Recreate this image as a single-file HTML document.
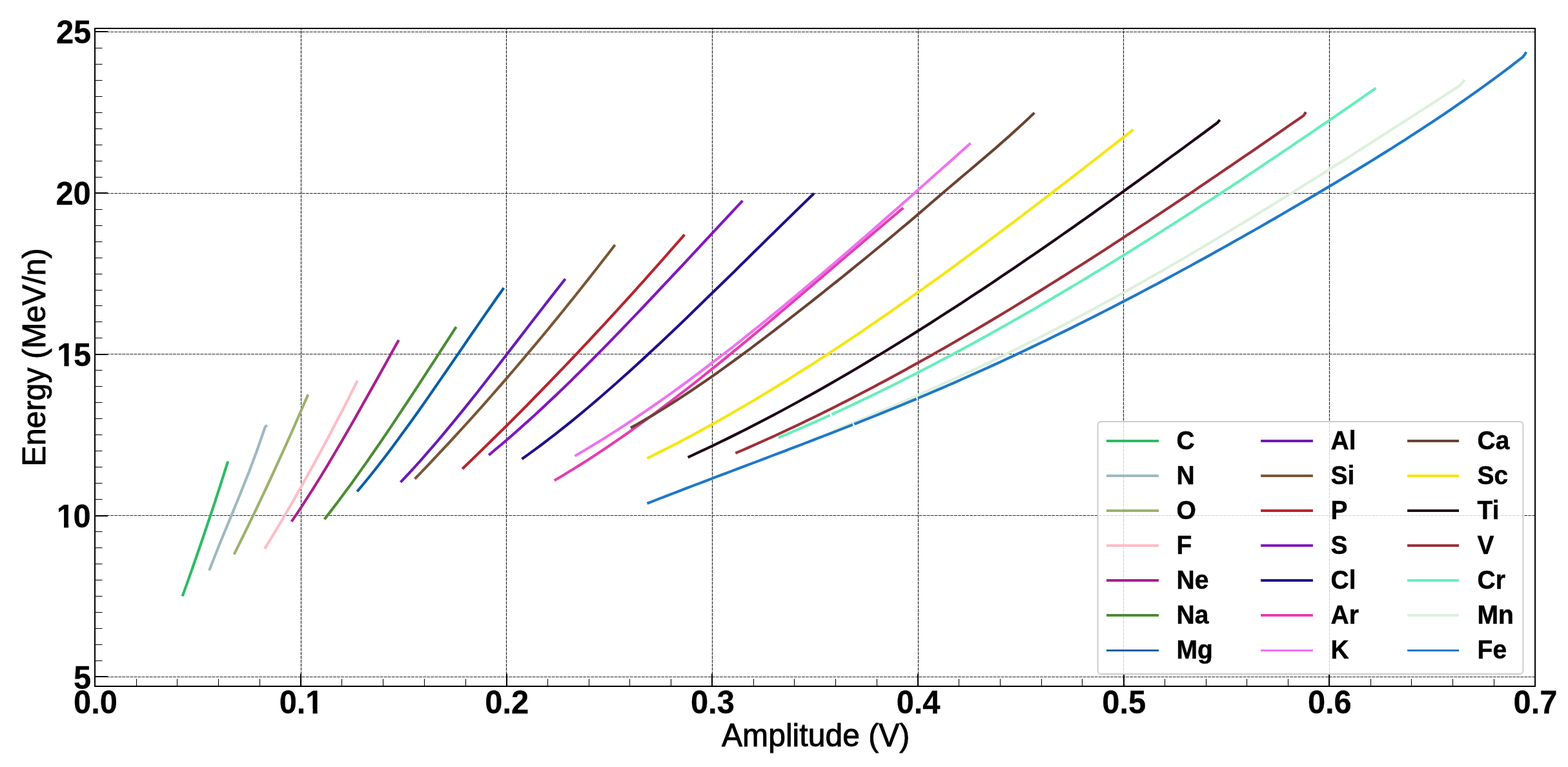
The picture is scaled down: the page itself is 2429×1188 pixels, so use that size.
<!DOCTYPE html>
<html lang="en"><head><meta charset="utf-8"><title>Energy vs Amplitude</title>
<style>html,body{margin:0;padding:0;background:#fff;overflow:hidden}svg{display:block}text{font-family:"Liberation Sans",sans-serif;fill:#000}text{stroke:#000;stroke-linejoin:round}.tk{font-weight:bold;font-size:48.8px;stroke-width:0.3px}.lb{font-size:48.1px;stroke-width:0.9px}.lg{font-weight:bold;font-size:39px;stroke-width:0.5px}</style></head><body>
<svg width="2429" height="1188" viewBox="0 0 2429 1188">
<rect width="2429" height="1188" fill="#fff"/>
<g id="grid">
<path d="M466.5 1063.0V44.0" stroke="#000" stroke-opacity="0.85" stroke-width="1.2" stroke-dasharray="4.8 1.25" fill="none"/>
<path d="M784.5 1063.0V44.0" stroke="#000" stroke-opacity="0.85" stroke-width="1.2" stroke-dasharray="4.8 1.25" fill="none"/>
<path d="M1103.5 1063.0V44.0" stroke="#000" stroke-opacity="0.85" stroke-width="1.2" stroke-dasharray="4.8 1.25" fill="none"/>
<path d="M1422.5 1063.0V44.0" stroke="#000" stroke-opacity="0.85" stroke-width="1.2" stroke-dasharray="4.8 1.25" fill="none"/>
<path d="M1740.5 1063.0V44.0" stroke="#000" stroke-opacity="0.85" stroke-width="1.2" stroke-dasharray="4.8 1.25" fill="none"/>
<path d="M2059.5 1063.0V44.0" stroke="#000" stroke-opacity="0.85" stroke-width="1.2" stroke-dasharray="4.8 1.25" fill="none"/>
<path d="M147.0 1048.5H2378.0" stroke="#000" stroke-opacity="0.85" stroke-width="1.2" stroke-dasharray="4.8 1.25" fill="none"/>
<path d="M147.0 798.5H2378.0" stroke="#000" stroke-opacity="0.85" stroke-width="1.2" stroke-dasharray="4.8 1.25" fill="none"/>
<path d="M147.0 548.5H2378.0" stroke="#000" stroke-opacity="0.85" stroke-width="1.2" stroke-dasharray="4.8 1.25" fill="none"/>
<path d="M147.0 299.5H2378.0" stroke="#000" stroke-opacity="0.85" stroke-width="1.2" stroke-dasharray="4.8 1.25" fill="none"/>
<path d="M147.0 49.5H2378.0" stroke="#000" stroke-opacity="0.85" stroke-width="1.2" stroke-dasharray="4.8 1.25" fill="none"/>
</g>
<g id="curves" fill="none" stroke-width="4.2" stroke-linejoin="round">
<path d="M282.6 923.4 L292.7 895.4 L302.7 866.8 L312.8 837.5 L322.9 807.7 L333.0 777.3 L343.0 746.3 L353.1 714.6" stroke="#2EBB62"/>
<path d="M324.1 883.5 L336.5 851.9 L348.9 821.5 L361.3 791.6 L373.6 761.4 L386.0 730.2 L398.4 697.0 L410.8 661.3 L413.8 658.5" stroke="#9DB9C2"/>
<path d="M362.6 858.6 L374.1 835.5 L385.5 812.1 L397.0 788.3 L408.5 764.1 L420.0 739.5 L431.4 714.6 L442.9 689.3 L454.4 663.6 L465.8 637.5 L477.3 611.1" stroke="#9DB16E"/>
<path d="M409.9 850.2 L421.0 832.0 L432.0 813.6 L443.1 794.8 L454.1 775.7 L465.2 756.3 L476.3 736.5 L487.3 716.5 L498.4 696.2 L509.5 675.5 L520.5 654.5 L531.6 633.2 L542.6 611.6 L553.7 589.7" stroke="#FFBDC7"/>
<path d="M451.6 807.9 L462.7 791.6 L473.7 774.7 L484.8 757.3 L495.9 739.5 L507.0 721.3 L518.0 702.7 L529.1 683.9 L540.2 664.7 L551.3 645.4 L562.3 625.8 L573.4 606.1 L584.5 586.4 L595.6 566.5 L606.6 546.6 L617.7 526.8" stroke="#A8208F"/>
<path d="M502.5 804.4 L513.2 790.6 L524.0 776.5 L534.7 762.1 L545.5 747.4 L556.2 732.4 L567.0 717.2 L577.7 701.8 L588.5 686.2 L599.2 670.3 L610.0 654.4 L620.7 638.2 L631.5 622.0 L642.2 605.6 L653.0 589.1 L663.7 572.6 L674.5 556.1 L685.2 539.5 L696.0 522.9 L706.7 506.3" stroke="#4C8C34"/>
<path d="M553.2 761.4 L564.0 748.5 L574.8 735.2 L585.7 721.5 L596.5 707.5 L607.3 693.2 L618.1 678.6 L628.9 663.8 L639.8 648.7 L650.6 633.5 L661.4 618.1 L672.2 602.5 L683.0 586.9 L693.8 571.2 L704.7 555.4 L715.5 539.6 L726.3 523.8 L737.1 508.1 L747.9 492.4 L758.8 476.8 L769.6 461.3 L780.4 446.0" stroke="#0A5FA8"/>
<path d="M620.5 746.9 L631.1 735.7 L641.8 724.1 L652.4 712.3 L663.0 700.2 L673.7 687.9 L684.3 675.4 L694.9 662.6 L705.6 649.7 L716.2 636.6 L726.8 623.4 L737.5 610.0 L748.1 596.5 L758.7 582.9 L769.4 569.2 L780.0 555.5 L790.6 541.7 L801.3 527.9 L811.9 514.1 L822.5 500.3 L833.2 486.5 L843.8 472.8 L854.4 459.1 L865.1 445.5 L875.7 432.0" stroke="#6A1BB5"/>
<path d="M642.6 741.8 L652.9 731.1 L663.3 720.2 L673.6 709.3 L683.9 698.3 L694.3 687.2 L704.6 676.0 L715.0 664.7 L725.3 653.3 L735.6 641.9 L746.0 630.3 L756.3 618.6 L766.6 606.9 L777.0 595.0 L787.3 583.1 L797.7 571.0 L808.0 558.9 L818.3 546.7 L828.7 534.4 L839.0 522.0 L849.3 509.5 L859.7 496.9 L870.0 484.2 L880.3 471.4 L890.7 458.5 L901.0 445.5 L911.4 432.4 L921.7 419.3 L932.0 406.0 L942.4 392.7 L952.7 379.2" stroke="#7A5634"/>
<path d="M716.2 726.2 L726.6 716.2 L737.1 706.1 L747.5 696.0 L757.9 685.8 L768.4 675.5 L778.8 665.2 L789.2 654.9 L799.6 644.4 L810.1 633.9 L820.5 623.4 L830.9 612.7 L841.4 602.1 L851.8 591.3 L862.2 580.5 L872.7 569.6 L883.1 558.7 L893.5 547.7 L903.9 536.6 L914.4 525.5 L924.8 514.3 L935.2 503.1 L945.7 491.8 L956.1 480.4 L966.5 469.0 L977.0 457.5 L987.4 445.9 L997.8 434.3 L1008.2 422.6 L1018.7 410.9 L1029.1 399.1 L1039.5 387.2 L1050.0 375.3 L1060.4 363.3" stroke="#B8242C"/>
<path d="M757.2 704.8 L767.5 696.2 L777.9 687.5 L788.2 678.6 L798.6 669.6 L808.9 660.4 L819.3 651.1 L829.6 641.7 L840.0 632.1 L850.3 622.4 L860.7 612.6 L871.0 602.7 L881.4 592.7 L891.7 582.5 L902.1 572.3 L912.4 562.0 L922.8 551.6 L933.1 541.1 L943.5 530.5 L953.8 519.9 L964.1 509.2 L974.5 498.4 L984.8 487.6 L995.2 476.7 L1005.5 465.8 L1015.9 454.8 L1026.2 443.8 L1036.6 432.8 L1046.9 421.7 L1057.3 410.7 L1067.6 399.6 L1078.0 388.5 L1088.3 377.3 L1098.7 366.2 L1109.0 355.1 L1119.4 344.0 L1129.7 333.0 L1140.1 321.9 L1150.4 310.9" stroke="#8018C0"/>
<path d="M808.4 711.0 L818.7 703.6 L829.0 696.1 L839.3 688.5 L849.5 680.7 L859.8 672.8 L870.1 664.7 L880.4 656.5 L890.7 648.1 L901.0 639.6 L911.3 631.0 L921.5 622.3 L931.8 613.5 L942.1 604.5 L952.4 595.5 L962.7 586.3 L973.0 577.1 L983.3 567.8 L993.6 558.4 L1003.8 548.9 L1014.1 539.3 L1024.4 529.7 L1034.7 520.0 L1045.0 510.2 L1055.3 500.4 L1065.6 490.5 L1075.8 480.6 L1086.1 470.6 L1096.4 460.6 L1106.7 450.6 L1117.0 440.6 L1127.3 430.5 L1137.6 420.4 L1147.8 410.3 L1158.1 400.2 L1168.4 390.0 L1178.7 379.9 L1189.0 369.8 L1199.3 359.7 L1209.6 349.6 L1219.9 339.5 L1230.1 329.5 L1240.4 319.4 L1250.7 309.5 L1261.0 299.5" stroke="#1F108C"/>
<path d="M858.8 744.2 L869.0 738.2 L879.2 732.0 L889.4 725.8 L899.6 719.4 L909.8 712.9 L920.0 706.3 L930.2 699.6 L940.4 692.8 L950.6 685.8 L960.8 678.8 L971.0 671.7 L981.2 664.4 L991.4 657.1 L1001.6 649.6 L1011.8 642.1 L1022.0 634.5 L1032.2 626.8 L1042.4 619.1 L1052.6 611.2 L1062.8 603.3 L1073.0 595.3 L1083.2 587.3 L1093.4 579.2 L1103.6 571.0 L1113.8 562.8 L1124.0 554.5 L1134.2 546.2 L1144.4 537.8 L1154.6 529.4 L1164.8 520.9 L1175.0 512.4 L1185.2 503.8 L1195.4 495.3 L1205.6 486.7 L1215.8 478.0 L1226.0 469.4 L1236.2 460.7 L1246.4 452.0 L1256.6 443.3 L1266.8 434.6 L1277.0 425.9 L1287.2 417.2 L1297.4 408.5 L1307.6 399.7 L1317.8 391.0 L1328.0 382.3 L1338.2 373.6 L1348.4 364.9 L1358.6 356.3 L1368.8 347.6 L1379.0 339.0 L1389.2 330.4 L1399.4 321.9" stroke="#E63CB0"/>
<path d="M890.6 706.3 L900.8 700.3 L911.0 694.2 L921.2 688.0 L931.5 681.7 L941.7 675.3 L951.9 668.8 L962.1 662.2 L972.3 655.5 L982.5 648.7 L992.8 641.8 L1003.0 634.8 L1013.2 627.8 L1023.4 620.6 L1033.6 613.4 L1043.8 606.1 L1054.0 598.7 L1064.3 591.2 L1074.5 583.6 L1084.7 576.0 L1094.9 568.3 L1105.1 560.5 L1115.3 552.7 L1125.5 544.8 L1135.8 536.8 L1146.0 528.8 L1156.2 520.7 L1166.4 512.5 L1176.6 504.3 L1186.8 496.1 L1197.0 487.7 L1207.3 479.3 L1217.5 470.9 L1227.7 462.4 L1237.9 453.9 L1248.1 445.3 L1258.3 436.7 L1268.6 428.1 L1278.8 419.4 L1289.0 410.6 L1299.2 401.9 L1309.4 393.1 L1319.6 384.2 L1329.8 375.4 L1340.1 366.5 L1350.3 357.6 L1360.5 348.6 L1370.7 339.6 L1380.9 330.7 L1391.1 321.7 L1401.3 312.6 L1411.6 303.6 L1421.8 294.5 L1432.0 285.5 L1442.2 276.4 L1452.4 267.3 L1462.6 258.2 L1472.9 249.1 L1483.1 240.0 L1493.3 230.9 L1503.5 221.8" stroke="#EE72F0"/>
<path d="M976.9 662.7 L987.2 657.0 L997.4 651.1 L1007.7 645.1 L1017.9 639.0 L1028.2 632.7 L1038.4 626.3 L1048.7 619.7 L1058.9 613.0 L1069.2 606.2 L1079.4 599.3 L1089.7 592.3 L1099.9 585.2 L1110.2 578.0 L1120.5 570.6 L1130.7 563.2 L1141.0 555.8 L1151.2 548.2 L1161.5 540.6 L1171.7 532.9 L1182.0 525.1 L1192.2 517.3 L1202.5 509.5 L1212.7 501.6 L1223.0 493.6 L1233.3 485.7 L1243.5 477.7 L1253.8 469.6 L1264.0 461.5 L1274.3 453.4 L1284.5 445.2 L1294.8 437.0 L1305.0 428.8 L1315.3 420.5 L1325.5 412.2 L1335.8 403.9 L1346.0 395.5 L1356.3 387.0 L1366.6 378.6 L1376.8 370.1 L1387.1 361.5 L1397.3 352.9 L1407.6 344.3 L1417.8 335.6 L1428.1 326.8 L1438.3 318.0 L1448.6 309.1 L1458.8 300.3 L1469.1 291.5 L1479.4 282.8 L1489.6 274.1 L1499.9 265.5 L1510.1 256.8 L1520.4 248.1 L1530.6 239.4 L1540.9 230.6 L1551.1 221.6 L1561.4 212.6 L1571.6 203.4 L1581.9 194.0 L1592.1 184.5 L1602.4 174.7" stroke="#6B4232"/>
<path d="M1002.5 709.8 L1012.7 704.8 L1022.9 699.7 L1033.0 694.6 L1043.2 689.4 L1053.4 684.1 L1063.6 678.7 L1073.8 673.3 L1083.9 667.8 L1094.1 662.2 L1104.3 656.6 L1114.5 650.9 L1124.7 645.1 L1134.8 639.3 L1145.0 633.4 L1155.2 627.5 L1165.4 621.5 L1175.6 615.4 L1185.7 609.3 L1195.9 603.1 L1206.1 596.9 L1216.3 590.6 L1226.5 584.2 L1236.6 577.8 L1246.8 571.4 L1257.0 564.9 L1267.2 558.3 L1277.4 551.7 L1287.5 545.0 L1297.7 538.3 L1307.9 531.6 L1318.1 524.8 L1328.3 517.9 L1338.4 511.0 L1348.6 504.1 L1358.8 497.1 L1369.0 490.1 L1379.2 483.0 L1389.3 475.9 L1399.5 468.8 L1409.7 461.6 L1419.9 454.3 L1430.0 447.1 L1440.2 439.8 L1450.4 432.5 L1460.6 425.1 L1470.8 417.7 L1480.9 410.3 L1491.1 402.8 L1501.3 395.3 L1511.5 387.8 L1521.7 380.2 L1531.8 372.6 L1542.0 365.0 L1552.2 357.4 L1562.4 349.7 L1572.6 342.1 L1582.7 334.4 L1592.9 326.6 L1603.1 318.9 L1613.3 311.1 L1623.5 303.3 L1633.6 295.5 L1643.8 287.7 L1654.0 279.8 L1664.2 272.0 L1674.4 264.1 L1684.5 256.2 L1694.7 248.3 L1704.9 240.4 L1715.1 232.4 L1725.3 224.5 L1735.4 216.5 L1745.6 208.6 L1755.8 200.6" stroke="#F5E610"/>
<path d="M1065.7 708.3 L1075.8 703.6 L1085.9 698.9 L1096.1 694.2 L1106.2 689.3 L1116.3 684.4 L1126.4 679.5 L1136.6 674.5 L1146.7 669.4 L1156.8 664.3 L1166.9 659.2 L1177.1 653.9 L1187.2 648.7 L1197.3 643.3 L1207.4 638.0 L1217.6 632.5 L1227.7 627.0 L1237.8 621.5 L1247.9 615.9 L1258.0 610.3 L1268.2 604.6 L1278.3 598.9 L1288.4 593.1 L1298.5 587.3 L1308.7 581.4 L1318.8 575.5 L1328.9 569.5 L1339.0 563.5 L1349.2 557.4 L1359.3 551.3 L1369.4 545.2 L1379.5 539.0 L1389.7 532.8 L1399.8 526.5 L1409.9 520.2 L1420.0 513.9 L1430.1 507.5 L1440.3 501.1 L1450.4 494.6 L1460.5 488.1 L1470.6 481.6 L1480.8 475.1 L1490.9 468.4 L1501.0 461.8 L1511.1 455.1 L1521.3 448.4 L1531.4 441.7 L1541.5 434.9 L1551.6 428.1 L1561.7 421.3 L1571.9 414.5 L1582.0 407.6 L1592.1 400.6 L1602.2 393.7 L1612.4 386.7 L1622.5 379.7 L1632.6 372.7 L1642.7 365.6 L1652.9 358.6 L1663.0 351.5 L1673.1 344.3 L1683.2 337.2 L1693.4 330.0 L1703.5 322.8 L1713.6 315.6 L1723.7 308.4 L1733.8 301.1 L1744.0 293.8 L1754.1 286.5 L1764.2 279.2 L1774.3 271.9 L1784.5 264.6 L1794.6 257.2 L1804.7 249.8 L1814.8 242.4 L1825.0 235.0 L1835.1 227.6 L1845.2 220.1 L1855.3 212.7 L1865.5 205.2 L1875.6 197.8 L1885.7 190.3 L1889.7 185.6" stroke="#200818"/>
<path d="M1139.3 701.9 L1149.4 697.6 L1159.5 693.2 L1169.7 688.7 L1179.8 684.2 L1189.9 679.7 L1200.0 675.1 L1210.1 670.4 L1220.2 665.7 L1230.4 660.9 L1240.5 656.1 L1250.6 651.2 L1260.7 646.3 L1270.8 641.4 L1280.9 636.4 L1291.1 631.3 L1301.2 626.2 L1311.3 621.1 L1321.4 615.9 L1331.5 610.7 L1341.6 605.4 L1351.8 600.1 L1361.9 594.7 L1372.0 589.3 L1382.1 583.8 L1392.2 578.3 L1402.3 572.8 L1412.5 567.2 L1422.6 561.6 L1432.7 556.0 L1442.8 550.3 L1452.9 544.5 L1463.1 538.8 L1473.2 533.0 L1483.3 527.1 L1493.4 521.3 L1503.5 515.3 L1513.6 509.4 L1523.8 503.4 L1533.9 497.4 L1544.0 491.4 L1554.1 485.3 L1564.2 479.2 L1574.3 473.0 L1584.5 466.8 L1594.6 460.6 L1604.7 454.4 L1614.8 448.1 L1624.9 441.8 L1635.0 435.5 L1645.2 429.1 L1655.3 422.7 L1665.4 416.3 L1675.5 409.9 L1685.6 403.4 L1695.7 396.9 L1705.9 390.4 L1716.0 383.9 L1726.1 377.3 L1736.2 370.7 L1746.3 364.1 L1756.5 357.5 L1766.6 350.8 L1776.7 344.2 L1786.8 337.5 L1796.9 330.7 L1807.0 324.0 L1817.2 317.2 L1827.3 310.5 L1837.4 303.7 L1847.5 296.9 L1857.6 290.0 L1867.7 283.2 L1877.9 276.3 L1888.0 269.5 L1898.1 262.6 L1908.2 255.7 L1918.3 248.7 L1928.4 241.8 L1938.6 234.9 L1948.7 227.9 L1958.8 220.9 L1968.9 214.0 L1979.0 207.0 L1989.1 200.0 L1999.3 192.9 L2009.4 185.9 L2019.5 178.9 L2023.0 173.7" stroke="#9C3038"/>
<path d="M1205.8 678.0 L1216.0 673.8 L1226.1 669.4 L1236.3 665.1 L1246.5 660.6 L1256.7 656.2 L1266.8 651.6 L1277.0 647.1 L1286.0 643.0M1288.3 641.9 L1297.3 637.8 L1307.5 633.1 L1317.7 628.3 L1327.9 623.5 L1338.0 618.7 L1348.2 613.8 L1358.4 608.8 L1368.5 603.9 L1378.7 598.8 L1388.9 593.8 L1399.1 588.7 L1409.2 583.5 L1419.4 578.3 L1429.6 573.1 L1439.7 567.8 L1449.9 562.5 L1460.1 557.1 L1470.3 551.8 L1480.4 546.3 L1490.6 540.8 L1500.8 535.3 L1510.9 529.8 L1521.1 524.2 L1531.3 518.6 L1541.5 512.9 L1551.6 507.2 L1561.8 501.5 L1572.0 495.7 L1582.1 489.9 L1592.3 484.1 L1602.5 478.2 L1612.7 472.3 L1622.8 466.4 L1633.0 460.4 L1643.2 454.4 L1653.3 448.4 L1663.5 442.3 L1673.7 436.2 L1683.9 430.1 L1694.0 423.9 L1704.2 417.7 L1714.4 411.5 L1724.5 405.3 L1734.7 399.0 L1744.9 392.7 L1755.1 386.4 L1765.2 380.0 L1775.4 373.6 L1785.6 367.2 L1795.7 360.8 L1805.9 354.3 L1816.1 347.8 L1826.3 341.3 L1836.4 334.8 L1846.6 328.2 L1856.8 321.6 L1866.9 315.0 L1877.1 308.4 L1887.3 301.7 L1897.5 295.1 L1907.6 288.4 L1917.8 281.7 L1928.0 274.9 L1938.1 268.2 L1948.3 261.4 L1958.5 254.6 L1968.7 247.8 L1978.8 240.9 L1989.0 234.1 L1999.2 227.2 L2009.3 220.3 L2019.5 213.4 L2029.7 206.5 L2039.9 199.6 L2050.0 192.6 L2060.2 185.7 L2070.4 178.7 L2080.5 171.7 L2090.7 164.7 L2100.9 157.7 L2111.1 150.6 L2121.2 143.6 L2131.4 136.5" stroke="#66EEBB"/>
<path d="M1290.0 667.6 L1300.1 663.6 L1310.2 659.4 L1320.4 655.3 L1330.5 651.2 L1340.6 647.0 L1350.8 642.7 L1360.9 638.5 L1371.0 634.2 L1381.1 629.9 L1391.2 625.5 L1401.4 621.1 L1411.5 616.7 L1421.6 612.3 L1431.8 607.8 L1441.9 603.3 L1452.0 598.7 L1462.1 594.1 L1472.2 589.5 L1482.4 584.9 L1492.5 580.2 L1502.6 575.4 L1512.8 570.7 L1522.9 565.9 L1533.0 561.0 L1543.1 556.1 L1553.2 551.2 L1563.4 546.2 L1573.5 541.2 L1583.6 536.2 L1593.8 531.1 L1603.9 526.0 L1614.0 520.8 L1624.1 515.6 L1634.2 510.4 L1644.4 505.1 L1654.5 499.8 L1664.6 494.4 L1674.8 489.0 L1684.9 483.6 L1695.0 478.1 L1705.1 472.6 L1715.2 467.1 L1725.4 461.6 L1735.5 456.0 L1745.6 450.3 L1755.8 444.7 L1765.9 439.0 L1776.0 433.2 L1786.1 427.5 L1796.2 421.7 L1806.4 415.9 L1816.5 410.0 L1826.6 404.2 L1836.8 398.2 L1846.9 392.3 L1857.0 386.3 L1867.1 380.4 L1877.2 374.3 L1887.4 368.3 L1897.5 362.2 L1907.6 356.1 L1917.8 350.0 L1927.9 343.9 L1938.0 337.7 L1948.1 331.5 L1958.2 325.3 L1968.4 319.1 L1978.5 312.8 L1988.6 306.5 L1998.8 300.3 L2008.9 294.0 L2019.0 287.6 L2029.1 281.3 L2039.2 274.9 L2049.4 268.6 L2059.5 262.2 L2069.6 255.8 L2079.8 249.4 L2089.9 242.9 L2100.0 236.5 L2110.1 230.0 L2120.2 223.6 L2130.4 217.1 L2140.5 210.6 L2150.6 204.1 L2160.8 197.6 L2170.9 191.1 L2181.0 184.6 L2191.1 178.0 L2201.2 171.5 L2211.4 165.0 L2221.5 158.4 L2231.6 151.9 L2241.8 145.3 L2251.9 138.7 L2262.0 132.2 L2266.0 127.3 L2268.7 123.4" stroke="#DCF0DC"/>
<path d="M1002.5 779.8 L1012.6 775.9 L1022.7 771.9 L1032.9 768.0 L1043.0 764.1 L1053.1 760.2 L1063.2 756.3 L1073.4 752.4 L1083.5 748.6 L1093.6 744.7 L1103.7 740.9 L1113.8 737.0 L1124.0 733.2 L1134.1 729.4 L1144.2 725.5 L1154.3 721.7 L1164.5 717.9 L1174.6 714.1 L1184.7 710.2 L1194.8 706.4 L1204.9 702.5 L1215.1 698.7 L1225.2 694.8 L1235.3 691.0 L1245.4 687.1 L1255.6 683.2 L1265.7 679.3 L1275.8 675.4 L1285.9 671.5 L1296.0 667.6 L1306.2 663.6 L1316.3 659.6 L1320.9 657.8M1323.3 656.9 L1326.4 655.7 L1336.5 651.6 L1346.7 647.6 L1356.8 643.6 L1366.9 639.5 L1377.0 635.4 L1387.2 631.2 L1397.3 627.1 L1407.4 622.9 L1417.5 618.7 L1419.8 617.7M1421.8 616.9 L1427.6 614.4 L1437.8 610.1 L1447.9 605.8 L1458.0 601.5 L1468.1 597.1 L1478.3 592.7 L1488.4 588.2 L1498.5 583.7 L1508.6 579.2 L1518.7 574.7 L1528.9 570.1 L1539.0 565.5 L1549.1 560.8 L1559.2 556.1 L1569.4 551.4 L1579.5 546.6 L1589.6 541.8 L1599.7 537.0 L1609.8 532.2 L1620.0 527.3 L1630.1 522.4 L1640.2 517.4 L1650.3 512.5 L1660.5 507.5 L1670.6 502.4 L1680.7 497.4 L1690.8 492.3 L1700.9 487.2 L1711.1 482.0 L1721.2 476.8 L1731.3 471.6 L1741.4 466.4 L1751.6 461.1 L1761.7 455.8 L1771.8 450.5 L1781.9 445.1 L1792.0 439.8 L1802.2 434.4 L1812.3 428.9 L1822.4 423.5 L1832.5 418.0 L1842.7 412.5 L1852.8 406.9 L1862.9 401.4 L1873.0 395.8 L1883.1 390.2 L1893.3 384.5 L1903.4 378.9 L1913.5 373.2 L1923.6 367.5 L1933.8 361.7 L1943.9 356.0 L1954.0 350.2 L1964.1 344.4 L1974.2 338.6 L1984.4 332.7 L1994.5 326.8 L2004.6 320.9 L2014.7 315.0 L2024.9 309.1 L2035.0 303.1 L2045.1 297.1 L2055.2 291.1 L2065.4 285.1 L2075.5 279.0 L2085.6 272.9 L2095.7 266.8 L2105.8 260.6 L2116.0 254.4 L2126.1 248.2 L2136.2 241.9 L2146.3 235.6 L2156.5 229.3 L2166.6 222.8 L2176.7 216.4 L2186.8 209.8 L2196.9 203.3 L2207.1 196.6 L2217.2 189.9 L2227.3 183.2 L2237.4 176.4 L2247.6 169.5 L2257.7 162.5 L2267.8 155.5 L2277.9 148.4 L2288.0 141.2 L2298.2 133.9 L2308.3 126.5 L2318.4 119.1 L2328.5 111.6 L2338.7 104.0 L2348.8 96.2 L2358.9 88.4 L2362.3 84.0 L2364.2 80.6" stroke="#1F78C8"/>
</g>
<g id="ticks" stroke="#000" fill="none">
<path d="M211.5 1063.0v-11.5M274.5 1063.0v-11.5M338.5 1063.0v-11.5M402.5 1063.0v-11.5M529.5 1063.0v-11.5M593.5 1063.0v-11.5M657.5 1063.0v-11.5M721.5 1063.0v-11.5M848.5 1063.0v-11.5M912.5 1063.0v-11.5M975.5 1063.0v-11.5M1039.5 1063.0v-11.5M1167.5 1063.0v-11.5M1230.5 1063.0v-11.5M1294.5 1063.0v-11.5M1358.5 1063.0v-11.5M1485.5 1063.0v-11.5M1549.5 1063.0v-11.5M1613.5 1063.0v-11.5M1676.5 1063.0v-11.5M1804.5 1063.0v-11.5M1868.5 1063.0v-11.5M1931.5 1063.0v-11.5M1995.5 1063.0v-11.5M2123.5 1063.0v-11.5M2186.5 1063.0v-11.5M2250.5 1063.0v-11.5M2314.5 1063.0v-11.5" stroke-width="1.1"/>
<path d="M147 1063.0v-19.5M466 1063.0v-19.5M785 1063.0v-19.5M1103 1063.0v-19.5M1422 1063.0v-19.5M1741 1063.0v-19.5M2059 1063.0v-19.5M2378 1063.0v-19.5" stroke-width="2"/>
<path d="M147.0 1023.5h11.5M147.0 998.5h11.5M147.0 973.5h11.5M147.0 948.5h11.5M147.0 923.5h11.5M147.0 898.5h11.5M147.0 873.5h11.5M147.0 848.5h11.5M147.0 823.5h11.5M147.0 773.5h11.5M147.0 748.5h11.5M147.0 723.5h11.5M147.0 698.5h11.5M147.0 673.5h11.5M147.0 648.5h11.5M147.0 623.5h11.5M147.0 598.5h11.5M147.0 573.5h11.5M147.0 523.5h11.5M147.0 498.5h11.5M147.0 473.5h11.5M147.0 449.5h11.5M147.0 424.5h11.5M147.0 399.5h11.5M147.0 374.5h11.5M147.0 349.5h11.5M147.0 324.5h11.5M147.0 274.5h11.5M147.0 249.5h11.5M147.0 224.5h11.5M147.0 199.5h11.5M147.0 174.5h11.5M147.0 149.5h11.5M147.0 124.5h11.5M147.0 99.5h11.5M147.0 74.5h11.5" stroke-width="1.1"/>
<path d="M147.0 1048h20M147.0 799h20M147.0 549h20M147.0 299h20M147.0 49h20" stroke-width="2"/>
</g>
<rect x="147.0" y="44.0" width="2231.0" height="1019.0" fill="none" stroke="#000" stroke-width="2"/>
<g class="tk" text-anchor="end">
<text transform="translate(141.20 1066.50) scale(1 1.03)">5</text>
<text text-anchor="start" transform="translate(0 817.10) scale(1 1.03)" x="87.82 113.56" y="0">10</text>
<text text-anchor="start" transform="translate(0 567.10) scale(1 1.03)" x="88.32 114.06" y="0">15</text>
<text transform="translate(140.70 317.10) scale(1 1.03)">20</text>
<text transform="translate(141.20 67.10) scale(1 1.03)">25</text>
</g>
<g class="tk" text-anchor="middle">
<text transform="translate(147.95 1104.90) scale(1 1.03)">0.0</text>
<text transform="translate(466.60 1104.90) scale(1 1.03)">0.1</text>
<text transform="translate(785.25 1104.90) scale(1 1.03)">0.2</text>
<text transform="translate(1103.90 1104.90) scale(1 1.03)">0.3</text>
<text transform="translate(1422.55 1104.90) scale(1 1.03)">0.4</text>
<text transform="translate(1741.20 1104.90) scale(1 1.03)">0.5</text>
<text transform="translate(2059.85 1104.90) scale(1 1.03)">0.6</text>
<text transform="translate(2378.50 1104.90) scale(1 1.03)">0.7</text>
</g>
<g fill="#fff"><rect x="89.29" y="810.42" width="9.72" height="8.23"/><rect x="106.11" y="810.42" width="9.30" height="8.23"/><rect x="89.79" y="560.42" width="9.72" height="8.23"/><rect x="106.61" y="560.42" width="9.30" height="8.23"/><rect x="474.85" y="1098.22" width="9.72" height="8.23"/><rect x="491.66" y="1098.22" width="9.30" height="8.23"/></g>
<text class="lb" text-anchor="middle" transform="translate(1263.7 1155.7) scale(1 1.02)">Amplitude (V)</text>
<text class="lb" style="font-size:48.3px" text-anchor="middle" transform="translate(70.1 553.4) rotate(-90) scale(1 1.02)">Energy (MeV/n)</text>
<g id="legend">
<rect x="1700.6" y="653" width="658.8" height="391" rx="5" ry="5" fill="#fff" fill-opacity="0.8" stroke="#ccc" stroke-width="2"/>
<path d="M1714 683.0H1795" stroke="#2EBB62" stroke-width="4" fill="none"/>
<text class="lg" transform="translate(1822.6 695.7) scale(1 1.04)">C</text>
<path d="M1714 737.0H1795" stroke="#9DB9C2" stroke-width="4" fill="none"/>
<text class="lg" transform="translate(1822.6 749.8) scale(1 1.04)">N</text>
<path d="M1714 791.0H1795" stroke="#9DB16E" stroke-width="4" fill="none"/>
<text class="lg" transform="translate(1822.6 803.8) scale(1 1.04)">O</text>
<path d="M1714 845.0H1795" stroke="#FFBDC7" stroke-width="4" fill="none"/>
<text class="lg" transform="translate(1822.6 857.9) scale(1 1.04)">F</text>
<path d="M1714 899.0H1795" stroke="#A8208F" stroke-width="4" fill="none"/>
<text class="lg" transform="translate(1822.6 911.9) scale(1 1.04)">Ne</text>
<path d="M1714 953.0H1795" stroke="#4C8C34" stroke-width="4" fill="none"/>
<text class="lg" transform="translate(1822.6 966.0) scale(1 1.04)">Na</text>
<path d="M1714 1007.5H1795" stroke="#0A5FA8" stroke-width="3" fill="none"/>
<text class="lg" transform="translate(1822.6 1020.1) scale(1 1.04)">Mg</text>
<path d="M1953.1 683.0H2033.9" stroke="#6A1BB5" stroke-width="4" fill="none"/>
<text class="lg" transform="translate(2061.6 695.7) scale(1 1.04)">Al</text>
<path d="M1953.1 737.0H2033.9" stroke="#7A5634" stroke-width="4" fill="none"/>
<text class="lg" transform="translate(2061.6 749.8) scale(1 1.04)">Si</text>
<path d="M1953.1 791.0H2033.9" stroke="#B8242C" stroke-width="4" fill="none"/>
<text class="lg" transform="translate(2061.6 803.8) scale(1 1.04)">P</text>
<path d="M1953.1 845.0H2033.9" stroke="#8018C0" stroke-width="4" fill="none"/>
<text class="lg" transform="translate(2061.6 857.9) scale(1 1.04)">S</text>
<path d="M1953.1 899.0H2033.9" stroke="#1F108C" stroke-width="4" fill="none"/>
<text class="lg" transform="translate(2061.6 911.9) scale(1 1.04)">Cl</text>
<path d="M1953.1 953.0H2033.9" stroke="#E63CB0" stroke-width="4" fill="none"/>
<text class="lg" transform="translate(2061.6 966.0) scale(1 1.04)">Ar</text>
<path d="M1953.1 1007.5H2033.9" stroke="#EE72F0" stroke-width="3" fill="none"/>
<text class="lg" transform="translate(2061.6 1020.1) scale(1 1.04)">K</text>
<path d="M2180.1 683.0H2260.1" stroke="#6B4232" stroke-width="4" fill="none"/>
<text class="lg" transform="translate(2288.6 695.7) scale(1 1.04)">Ca</text>
<path d="M2180.1 737.0H2260.1" stroke="#F5E610" stroke-width="4" fill="none"/>
<text class="lg" transform="translate(2288.6 749.8) scale(1 1.04)">Sc</text>
<path d="M2180.1 791.0H2260.1" stroke="#200818" stroke-width="4" fill="none"/>
<text class="lg" transform="translate(2288.6 803.8) scale(1 1.04)">Ti</text>
<path d="M2180.1 845.0H2260.1" stroke="#9C3038" stroke-width="4" fill="none"/>
<text class="lg" transform="translate(2288.6 857.9) scale(1 1.04)">V</text>
<path d="M2180.1 899.0H2260.1" stroke="#66EEBB" stroke-width="4" fill="none"/>
<text class="lg" transform="translate(2288.6 911.9) scale(1 1.04)">Cr</text>
<path d="M2180.1 953.0H2260.1" stroke="#DCF0DC" stroke-width="4" fill="none"/>
<text class="lg" transform="translate(2288.6 966.0) scale(1 1.04)">Mn</text>
<path d="M2180.1 1007.5H2260.1" stroke="#1F78C8" stroke-width="3" fill="none"/>
<text class="lg" transform="translate(2288.6 1020.1) scale(1 1.04)">Fe</text>
</g>
</svg></body></html>
